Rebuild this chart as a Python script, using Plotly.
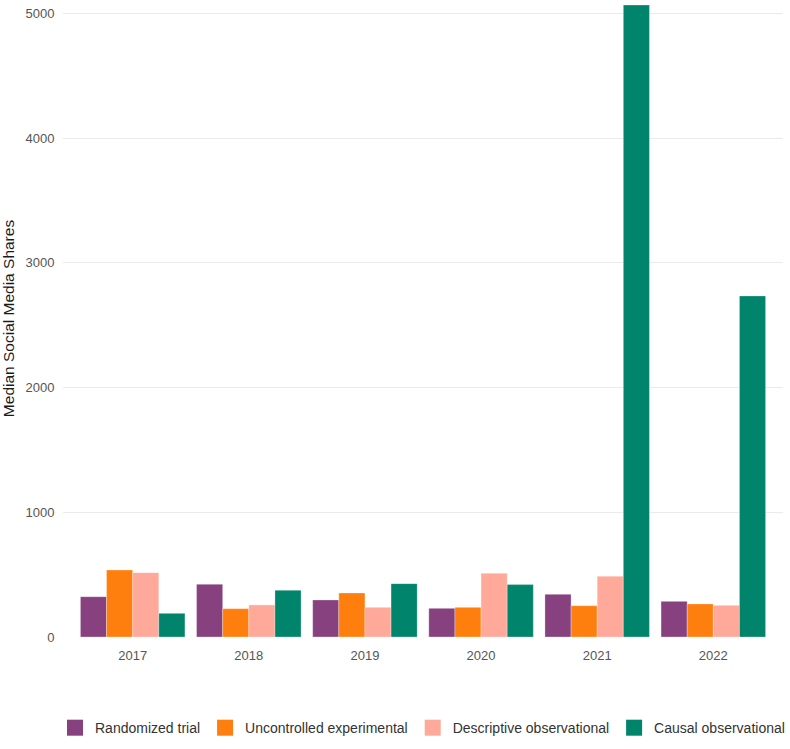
import plotly.graph_objects as go

years = ["2017", "2018", "2019", "2020", "2021", "2022"]
series_names = ["Randomized trial", "Uncontrolled experimental",
                "Descriptive observational", "Causal observational"]
randomized = [323, 423, 297, 230, 342, 286]
uncontrolled = [537, 227, 353, 238, 251, 265]
descriptive = [516, 257, 238, 511, 487, 254]
causal = [190, 375, 428, 420, 5068, 2735]
colors = ["#87417F", "#FF7F0E", "#FFA99A", "#00846B"]

fig = go.Figure()
for name, vals, col in zip(series_names, [randomized, uncontrolled, descriptive, causal], colors):
    fig.add_trace(go.Bar(x=years, y=vals, name=name, showlegend=False,
                         marker=dict(color=col, line=dict(color="rgba(255,255,255,0.6)", width=0.5))))
# legend keys (large squares like the reference)
for name, col in zip(series_names, colors):
    fig.add_trace(go.Scatter(x=[None], y=[None], name=name, mode="markers",
                             marker=dict(symbol="square", size=24, color=col),
                             hoverinfo="skip"))

fig.update_layout(
    width=790, height=749,
    margin=dict(l=63, r=7, t=0, b=112),
    paper_bgcolor="white", plot_bgcolor="white",
    barmode="group", bargap=0.1, bargroupgap=0,
    font=dict(family="Liberation Sans, Arial, sans-serif", color="#4D4D4D", size=13),
    xaxis=dict(range=[-0.6, 5.6], showgrid=False, zeroline=False, showline=False,
               ticks="outside", ticklen=6, tickcolor="rgba(0,0,0,0)",
               tickfont=dict(size=13, color="#555555")),
    yaxis=dict(range=[0, 5108], tickvals=[0, 1000, 2000, 3000, 4000, 5000],
               showgrid=True, gridcolor="#EBEBEB", gridwidth=1, zeroline=False,
               showline=False, ticks="outside", ticklen=5, tickcolor="rgba(0,0,0,0)",
               tickfont=dict(size=13, color="#555555"),
               title=dict(text="Median Social Media Shares", standoff=12,
                          font=dict(size=15.5, color="#1A1A1A"))),
    legend=dict(orientation="h", x=-0.01, xanchor="left", y=-0.143, yanchor="middle",
                font=dict(size=14, color="#333333"), traceorder="normal",
                itemsizing="trace", itemwidth=30),
)

fig.write_html("out.html")
